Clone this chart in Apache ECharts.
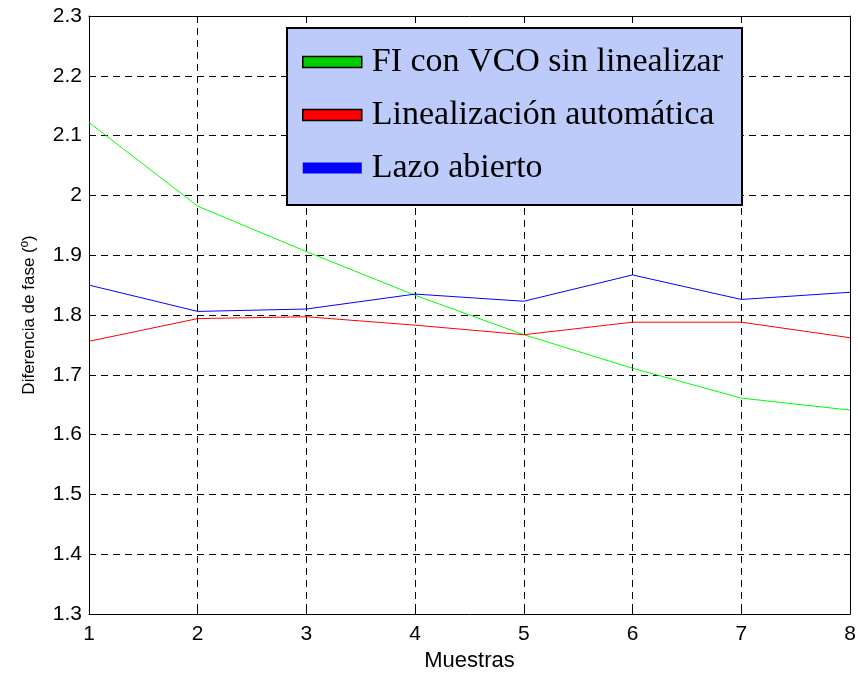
<!DOCTYPE html>
<html><head><meta charset="utf-8">
<script src="https://cdn.jsdelivr.net/npm/echarts@6/dist/echarts.min.js"></script>
<style>html,body{margin:0;padding:0;background:#fff}#c{width:858px;height:673px}</style>
</head><body><div id="c"></div>
<script>
const categories = [1, 2, 3, 4, 5, 6, 7, 8];
const seriesNames = ['FI con VCO sin linealizar', 'Linealización automática', 'Lazo abierto'];
const fiVco = [2.122, 1.982, 1.906, 1.833, 1.767, 1.711, 1.661, 1.641];
const linAuto = [1.756, 1.794, 1.797, 1.783, 1.767, 1.788, 1.788, 1.762];
const lazoAbierto = [1.850, 1.806, 1.810, 1.835, 1.823, 1.867, 1.826, 1.838];
const yTicks = [1.3, 1.4, 1.5, 1.6, 1.7, 1.8, 1.9, 2, 2.1, 2.2, 2.3];

const colors = ['#00ff00', '#ff0000', '#0000ff'];
const legendFill = ['#00cc00', '#ff0000', '#0000ff'];
const chart = echarts.init(document.getElementById('c'));
const pair = arr => arr.map((v, i) => [categories[i], v]);
const gridLine = {show: true, lineStyle: {color: '#000', type: [7, 5], width: 1}};
const sans = 'Liberation Sans, Arial, sans-serif';
const tickFont = {color: '#000', fontFamily: sans, fontSize: 21};
chart.setOption({
  animation: false,
  grid: {left: 89, right: 8, top: 16, bottom: 59, outerBoundsMode: 'none', containLabel: false},
  xAxis: [{
    type: 'value', min: 1, max: 8, interval: 1,
    axisLine: {show: true, onZero: false, lineStyle: {color: '#000', width: 1}},
    axisTick: {show: true, inside: true, length: 6, lineStyle: {color: '#000'}},
    axisLabel: Object.assign({margin: 10}, tickFont),
    splitLine: gridLine,
    name: 'Muestras', nameLocation: 'middle', nameGap: 35,
    nameTextStyle: {color: '#000', fontFamily: sans, fontSize: 22}
  }, {
    type: 'value', position: 'top', min: 1, max: 8, interval: 1,
    axisLine: {show: true, lineStyle: {color: '#000', width: 1}},
    axisTick: {show: true, inside: true, length: 6, lineStyle: {color: '#000'}},
    axisLabel: {show: false}, splitLine: {show: false}
  }],
  yAxis: [{
    type: 'value', min: 1.3, max: 2.3, interval: 0.1,
    axisLine: {show: true, onZero: false, lineStyle: {color: '#000', width: 1}},
    axisTick: {show: true, inside: true, length: 6, lineStyle: {color: '#000'}},
    axisLabel: Object.assign({margin: 7, formatter: v => String(Math.round(v * 10) / 10)}, tickFont),
    splitLine: gridLine,
    name: 'Diferencia de fase (º)', nameLocation: 'middle', nameGap: 51,
    nameTextStyle: {color: '#000', fontFamily: sans, fontSize: 17}
  }, {
    type: 'value', position: 'right', min: 1.3, max: 2.3, interval: 0.1,
    axisLine: {show: true, lineStyle: {color: '#000', width: 1}},
    axisTick: {show: true, inside: true, length: 6, lineStyle: {color: '#000'}},
    axisLabel: {show: false}, splitLine: {show: false}
  }],
  legend: {
    orient: 'vertical', left: 287, top: 28,
    backgroundColor: '#bccbfa', borderColor: '#000', borderWidth: 2,
    padding: [16, 19, 19, 15],
    itemWidth: 59, itemHeight: 11, itemGap: 17, icon: 'rect',
    textStyle: {fontFamily: 'Liberation Serif, Times New Roman, serif', fontSize: 34, color: '#000', lineHeight: 36, padding: [0, 0, 0, 5]},
    data: [
      {name: seriesNames[0], itemStyle: {color: legendFill[0], borderColor: '#000', borderWidth: 1.5}},
      {name: seriesNames[1], itemStyle: {color: legendFill[1], borderColor: '#000', borderWidth: 1.5}},
      {name: seriesNames[2], itemStyle: {color: legendFill[2], borderWidth: 0}}
    ]
  },
  series: [
    {name: seriesNames[0], type: 'line', data: pair(fiVco), symbol: 'none', lineStyle: {color: colors[0], width: 1}, itemStyle: {color: colors[0]}},
    {name: seriesNames[1], type: 'line', data: pair(linAuto), symbol: 'none', lineStyle: {color: colors[1], width: 1}, itemStyle: {color: colors[1]}},
    {name: seriesNames[2], type: 'line', data: pair(lazoAbierto), symbol: 'none', lineStyle: {color: colors[2], width: 1}, itemStyle: {color: colors[2]}}
  ]
});
</script></body></html>
